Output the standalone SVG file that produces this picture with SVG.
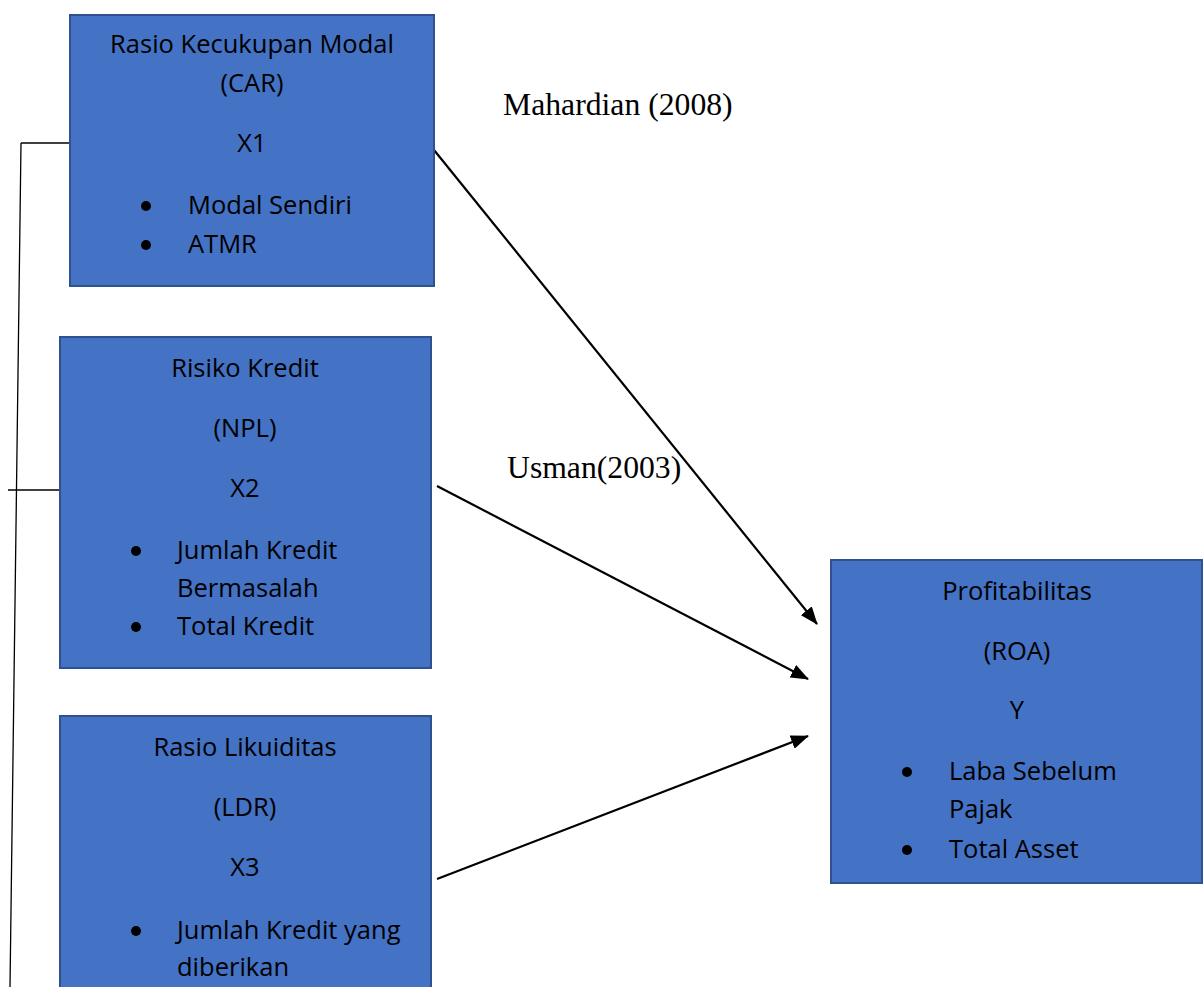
<svg xmlns="http://www.w3.org/2000/svg" width="1203" height="987" viewBox="0 0 1203 987">
<style>
.box{fill:#4472C4;stroke:#2F528F;stroke-width:2}
.t{font-family:"Open Sans","Noto Sans",sans-serif;font-size:25.5px;fill:#000}
.c{text-anchor:middle}
.ref{font-family:"Liberation Serif","Times New Roman",serif;font-size:31.7px;fill:#000}
.ln{stroke:#000;stroke-width:1.3;fill:none}
.ar{stroke:#000;stroke-width:2.2;fill:none}
</style>
<defs>
<marker id="ah" viewBox="0 0 18 14" refX="17" refY="7" markerWidth="18" markerHeight="14" markerUnits="userSpaceOnUse" orient="auto">
<path d="M0,0 L18,7 L0,14 z" fill="#000"/>
</marker>
</defs>
<rect width="1203" height="987" fill="#fff"/>
<g id="connectors">
<line class="ln" x1="21" y1="143" x2="70" y2="143"/>
<line class="ln" x1="21" y1="143" x2="10" y2="987"/>
<line class="ln" x1="8" y1="490" x2="59" y2="490"/>
<line class="ar" x1="434" y1="150" x2="817" y2="624" marker-end="url(#ah)"/>
<line class="ar" x1="437" y1="486" x2="808" y2="679" marker-end="url(#ah)"/>
<line class="ar" x1="437" y1="879" x2="808" y2="736" marker-end="url(#ah)"/>
</g>
<g id="labels">
<text class="ref" x="503" y="115">Mahardian (2008)</text>
<text class="ref" x="507" y="478">Usman(2003)</text>
</g>
<g id="node-car">
<rect class="box" x="70" y="15" width="364" height="271"/>
<text class="t c" x="252" y="53">Rasio Kecukupan Modal</text>
<text class="t c" x="252" y="92">(CAR)</text>
<text class="t c" x="252" y="152">X1</text>
<circle cx="146" cy="206" r="5"/>
<text class="t" x="188" y="214">Modal Sendiri</text>
<circle cx="146" cy="245" r="5"/>
<text class="t" x="188" y="253">ATMR</text>
</g>
<g id="node-npl">
<rect class="box" x="60" y="337" width="371" height="331"/>
<text class="t c" x="245" y="377">Risiko Kredit</text>
<text class="t c" x="245" y="437">(NPL)</text>
<text class="t c" x="245" y="497">X2</text>
<circle cx="136" cy="551" r="5"/>
<text class="t" x="177" y="559">Jumlah Kredit</text>
<text class="t" x="177" y="597">Bermasalah</text>
<circle cx="136" cy="627" r="5"/>
<text class="t" x="177" y="635">Total Kredit</text>
</g>
<g id="node-ldr">
<rect class="box" x="60" y="716" width="371" height="290"/>
<text class="t c" x="245" y="756">Rasio Likuiditas</text>
<text class="t c" x="245" y="816">(LDR)</text>
<text class="t c" x="245" y="876">X3</text>
<circle cx="136" cy="931" r="5"/>
<text class="t" x="177" y="939">Jumlah Kredit yang</text>
<text class="t" x="177" y="976">diberikan</text>
</g>
<g id="node-roa">
<rect class="box" x="831" y="560" width="371" height="323"/>
<text class="t c" x="1017" y="600">Profitabilitas</text>
<text class="t c" x="1017" y="660">(ROA)</text>
<text class="t c" x="1017" y="719">Y</text>
<circle cx="907" cy="772" r="5"/>
<text class="t" x="949" y="780">Laba Sebelum</text>
<text class="t" x="949" y="818">Pajak</text>
<circle cx="907" cy="850" r="5"/>
<text class="t" x="949" y="858">Total Asset</text>
</g>
</svg>
